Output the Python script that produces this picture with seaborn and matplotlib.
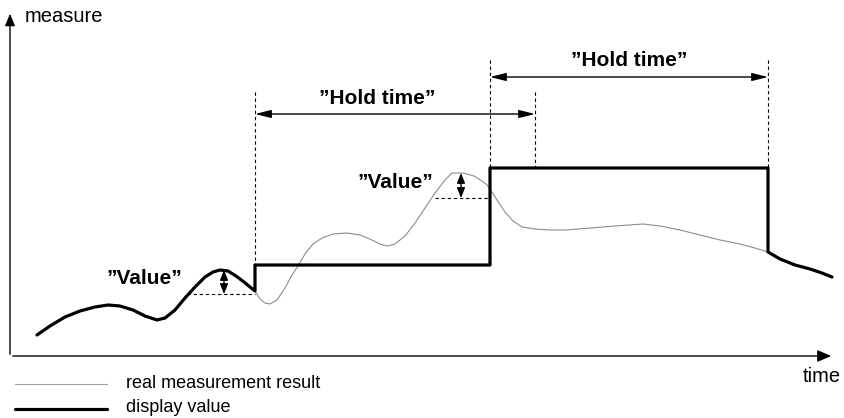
import numpy as np
import pandas as pd
import matplotlib
matplotlib.use('Agg')
import matplotlib.pyplot as plt
import seaborn as sns

real_time = [37, 50, 65, 80, 95, 108, 120, 133, 145, 157, 165, 175, 185, 195, 205,
             213, 220, 228, 236, 244, 250, 255, 260, 265, 270, 277, 285, 292, 298,
             305, 313, 322, 333, 347, 360, 372, 380, 387, 395, 405, 415, 425, 435,
             445, 452, 463, 474, 482, 487, 490, 497, 505, 513, 522, 535, 550, 567,
             590, 615, 643, 660, 680, 700, 720, 740, 755, 768, 780, 795, 810, 822, 832]
real_py = [335, 326, 317, 311, 307, 305, 306, 310, 316, 320, 318, 310, 298, 287, 277,
           272, 270, 271, 276, 282, 287, 291, 299, 303, 304, 300, 288, 275, 266,
           254, 244, 238, 234, 233, 235, 240, 244, 246, 244, 236, 223, 208, 193,
           180, 173, 173, 176, 181, 185, 189, 200, 212, 221, 227, 229, 230, 230,
           228, 226, 224, 226, 230, 235, 240, 244, 248, 252, 259, 265, 269, 273, 277]
H = 418
real_measure = [H - v for v in real_py]

# hold periods of the display
hold_start = [255, 490]
hold_end = [490, 768]
hold_value = [H - 265, H - 168]
hold_label_end = [535, 768]

df_real = pd.DataFrame({'time': real_time, 'measure': real_measure})

i1 = real_time.index(hold_start[0])
i2 = real_time.index(hold_end[1])
disp_time = real_time[:i1 + 1] + [hold_start[0], hold_end[0], hold_start[1], hold_end[1], hold_end[1]] + real_time[i2:]
disp_measure = real_measure[:i1 + 1] + [hold_value[0], hold_value[0], hold_value[1], hold_value[1], real_measure[i2]] + real_measure[i2:]
df_disp = pd.DataFrame({'time': disp_time, 'measure': disp_measure})

sns.set_theme(style='white')
plt.rcParams['font.family'] = ['Liberation Sans', 'DejaVu Sans']

fig = plt.figure(figsize=(8.45, 4.18), dpi=100)
ax = fig.add_axes([0, 0, 1, 1])
ax.set_xlim(0, 845)
ax.set_ylim(0, H)
ax.axis('off')

sns.lineplot(data=df_real, x='time', y='measure', sort=False, estimator=None,
             color='#8c8c8c', linewidth=0.8, ax=ax)
sns.lineplot(data=df_disp, x='time', y='measure', sort=False, estimator=None,
             color='black', linewidth=2.3, ax=ax)
for ln in ax.lines:
    ln.set_solid_joinstyle('round')

# axes arrows
ax.annotate('', xy=(834, H - 356), xytext=(10, H - 356),
            arrowprops=dict(arrowstyle='-|>,head_length=0.7,head_width=0.3', color='black', lw=1.0))
ax.annotate('', xy=(10, H - 11), xytext=(10, H - 357),
            arrowprops=dict(arrowstyle='-|>,head_length=0.6,head_width=0.25', color='black', lw=1.0))
ax.text(25, H - 16, 'measure', fontsize=14.5, va='center', ha='left', color='black')
ax.text(822, H - 377, 'time', fontsize=14.5, va='center', ha='center', color='black')

dash = (0, (3, 2.5))
# hold time markers
hold_top = [H - 92, H - 60]
arrow_y = [H - 114, H - 77]
label_x = [377, 629]
label_y = [H - 98, H - 60]
for k in range(2):
    ax.plot([hold_start[k], hold_start[k]], [hold_top[k], hold_value[k]], color='black', lw=0.8, ls=dash)
    ax.plot([hold_label_end[k], hold_label_end[k]], [hold_top[k], hold_value[1]], color='black', lw=0.8, ls=dash)
    ax.annotate('', xy=(hold_label_end[k], arrow_y[k]), xytext=(hold_start[k], arrow_y[k]),
                arrowprops=dict(arrowstyle='<|-|>,head_length=0.8,head_width=0.2', color='black', lw=1.0,
                                shrinkA=0, shrinkB=0))
    ax.text(label_x[k], label_y[k], '\u201dHold time\u201d', fontsize=15, fontweight='bold',
            ha='center', va='center', color='black')

# value markers
peak_time = [224, 461]
peak_top = [H - 270, H - 173]
value_low = [H - 294, H - 198]
dash_from = [187, 435]
dash_to = [255, 490]
value_x = [144, 395]
value_y = [H - 279, H - 183]
for k in range(2):
    ax.plot([dash_from[k], dash_to[k]], [value_low[k], value_low[k]], color='black', lw=0.8, ls=dash)
    ax.annotate('', xy=(peak_time[k], peak_top[k]), xytext=(peak_time[k], value_low[k]),
                arrowprops=dict(arrowstyle='<|-|>,head_length=0.5,head_width=0.2', color='black', lw=1.0,
                                shrinkA=0, shrinkB=0))
    ax.text(value_x[k], value_y[k], '\u201dValue\u201d', fontsize=15, fontweight='bold',
            ha='center', va='center', color='black')

# legend
ax.plot([15, 107], [H - 384, H - 384], color='#a0a0a0', lw=0.8)
ax.plot([15, 107], [H - 409, H - 409], color='black', lw=2.3)
ax.text(126, H - 383, 'real measurement result', fontsize=13, va='center', ha='left', color='black')
ax.text(126, H - 408, 'display value', fontsize=13, va='center', ha='left', color='black')

fig.savefig('out.png', dpi=100)
